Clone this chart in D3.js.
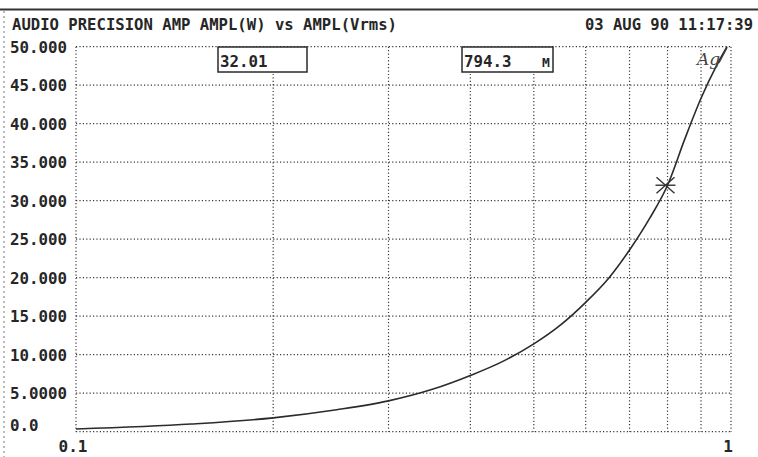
<!DOCTYPE html>
<html>
<head>
<meta charset="utf-8">
<script src="https://cdn.jsdelivr.net/npm/d3@7/dist/d3.min.js"></script>
<style>
  html, body { margin: 0; padding: 0; background: #fff; }
  svg { display: block; font-family: "DejaVu Sans Mono", "Liberation Mono", monospace; }
  .lbl { fill: #262626; font-weight: bold; font-size: 16px; }
  .grid line { stroke: #3a3a3a; stroke-width: 1.2; stroke-dasharray: 1.2,2.2; }
</style>
</head>
<body>
<svg id="chart" width="758" height="457"></svg>
<script>
// Amplifier output power (W) vs input amplitude (Vrms)
const ampl = [0.1, 0.15, 0.2, 0.25, 0.3, 0.35, 0.4, 0.45, 0.5, 0.55, 0.6, 0.65, 0.7, 0.75, 0.8, 0.85, 0.9, 0.95, 0.986];
const power = [0.35, 1.0, 1.8, 2.85, 4.0, 5.5, 7.3, 9.2, 11.4, 13.9, 16.8, 19.9, 23.6, 27.6, 32.0, 38.0, 43.3, 47.5, 50];

const yTicks = [0, 5, 10, 15, 20, 25, 30, 35, 40, 45, 50];
const yTickLabels = ["0.0", "5.0000", "10.000", "15.000", "20.000", "25.000", "30.000", "35.000", "40.000", "45.000", "50.000"];
const xGrid = [0.1, 0.2, 0.3, 0.4, 0.5, 0.6, 0.7, 0.8, 0.9, 1];
const xTickLabels = [{ v: 0.1, t: "0.1" }, { v: 1, t: "1" }];

const cursorX = 0.7943, cursorY = 32.01;
const title = "AUDIO PRECISION AMP AMPL(W) vs AMPL(Vrms)";
const stamp = "03 AUG 90 11:17:39";

const svg = d3.select("#chart");
const W = 758, H = 457;
const m = { left: 76, right: 27, top: 46.7, bottom: 25.3 };

const x = d3.scaleLog().domain([0.1, 1]).range([m.left, W - m.right]);
const y = d3.scaleLinear().domain([0, 50]).range([H - m.bottom, m.top]);

// page frame: heavy rule at top, dotted margin at left
svg.append("line").attr("x1", 0).attr("x2", W).attr("y1", 9.5).attr("y2", 9.5)
  .attr("stroke", "#333").attr("stroke-width", 2);
svg.append("line").attr("x1", 4).attr("x2", 4).attr("y1", 11).attr("y2", H)
  .attr("stroke", "#777").attr("stroke-width", 1).attr("stroke-dasharray", "2,3");

// header text
svg.append("text").attr("class", "lbl").attr("x", 12).attr("y", 30)
  .attr("textLength", 385).attr("lengthAdjust", "spacingAndGlyphs").text(title);
svg.append("text").attr("class", "lbl").attr("x", 585).attr("y", 30)
  .attr("textLength", 168).attr("lengthAdjust", "spacingAndGlyphs").text(stamp);

// dotted grid (includes plot frame)
const grid = svg.append("g").attr("class", "grid");
grid.selectAll(".gx").data(xGrid).join("line")
  .attr("x1", d => x(d)).attr("x2", d => x(d))
  .attr("y1", y(50)).attr("y2", y(0));
grid.selectAll(".gy").data(yTicks).join("line")
  .attr("x1", x(0.1)).attr("x2", x(1))
  .attr("y1", d => y(d)).attr("y2", d => y(d));

// y tick labels
svg.selectAll(".ylab").data(yTicks).join("text")
  .attr("class", "lbl")
  .attr("x", 10)
  .attr("y", d => d === 0 ? y(d) - 1 : y(d) + 6)
  .attr("textLength", (d, i) => yTickLabels[i].length * 9.5)
  .attr("lengthAdjust", "spacingAndGlyphs")
  .text((d, i) => yTickLabels[i]);

// x tick labels
svg.selectAll(".xlab").data(xTickLabels).join("text")
  .attr("class", "lbl")
  .attr("x", d => x(d.v) - 3)
  .attr("y", 452)
  .attr("text-anchor", "middle")
  .text(d => d.t);

// curve
const line = d3.line()
  .x((d, i) => x(ampl[i]))
  .y(d => y(d))
  .curve(d3.curveMonotoneX);
svg.append("path").datum(power)
  .attr("d", line)
  .attr("fill", "none")
  .attr("stroke", "#2b2b2b")
  .attr("stroke-width", 1.6);

// cursor readout boxes
function readout(x0, x1, label, unit) {
  svg.append("rect").attr("x", x0).attr("y", 47).attr("width", x1 - x0).attr("height", 25)
    .attr("fill", "#fff").attr("stroke", "#2a2a2a").attr("stroke-width", 1.5);
  svg.append("text").attr("class", "lbl").attr("x", x0 + 2).attr("y", 67)
    .attr("textLength", label.length * 9.5).attr("lengthAdjust", "spacingAndGlyphs").text(label);
  if (unit) {
    svg.append("text").attr("class", "lbl").attr("x", x1 - 11).attr("y", 67)
      .style("font-size", "13px").text(unit);
  }
}
readout(218, 307, cursorY.toFixed(2), null);
readout(462, 553, (cursorX * 1000).toFixed(1), "M");

// cursor marker (asterisk)
const cx = x(cursorX), cy = y(cursorY);
const mk = svg.append("g").attr("stroke", "#333").attr("stroke-width", 1.4);
mk.append("line").attr("x1", cx - 9).attr("x2", cx + 9).attr("y1", cy - 8).attr("y2", cy + 8);
mk.append("line").attr("x1", cx - 9).attr("x2", cx + 9).attr("y1", cy + 8).attr("y2", cy - 8);
mk.append("line").attr("x1", cx - 10).attr("x2", cx + 10).attr("y1", cy).attr("y2", cy);

// handwritten note near the top of the curve
svg.append("text").attr("x", 697).attr("y", 65)
  .style("font-family", "'DejaVu Serif', serif").style("font-style", "italic")
  .style("font-size", "17px").attr("fill", "#444").text("Ag");
svg.append("line").attr("x1", 719).attr("x2", 727).attr("y1", 63).attr("y2", 48)
  .attr("stroke", "#444").attr("stroke-width", 1.2);
</script>
</body>
</html>
